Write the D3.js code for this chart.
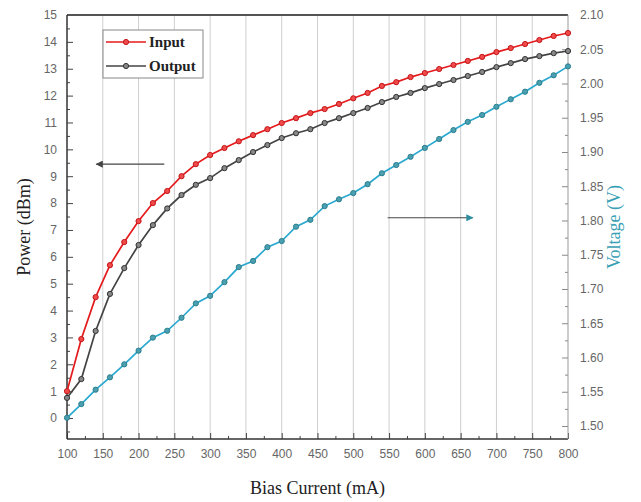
<!DOCTYPE html>
<html lang="en">
<head>
  <meta charset="UTF-8">
  <title>Power and Voltage vs Bias Current</title>
  <script src="https://d3js.org/d3.v7.min.js"></script>
  <style>
    body { margin: 0; background: #fff; }
    svg { display: block; }
    .tick-label { font-family: "Liberation Sans", Arial, sans-serif; font-size: 12px; fill: #666; }
    .title { font-family: "Liberation Serif", "Times New Roman", serif; font-size: 18px; fill: #222; }
    .legend { font-family: "Liberation Serif", "Times New Roman", serif; font-size: 15px; font-weight: bold; fill: #222; }
  </style>
</head>
<body>
  <svg width="641" height="502"></svg>
  <script>
    // data
    const current = d3.range(100, 801, 20);
    const inputPower = [1.0, 2.94, 4.5, 5.69, 6.55, 7.33, 8.0, 8.45, 9.0, 9.45, 9.79, 10.05, 10.3, 10.53, 10.75,
      10.98, 11.16, 11.35, 11.5, 11.69, 11.9, 12.1, 12.36, 12.5, 12.69, 12.84, 12.99, 13.14, 13.29, 13.44,
      13.62, 13.77, 13.92, 14.07, 14.22, 14.33];
    const outputPower = [0.75, 1.45, 3.24, 4.62, 5.58, 6.44, 7.18, 7.8, 8.3, 8.68, 8.93, 9.3, 9.6, 9.9, 10.16,
      10.42, 10.6, 10.75, 10.98, 11.16, 11.35, 11.54, 11.76, 11.95, 12.1, 12.28, 12.43, 12.58, 12.73, 12.88,
      13.06, 13.21, 13.36, 13.47, 13.58, 13.66];
    const voltage = [1.512, 1.532, 1.553, 1.571, 1.590, 1.610, 1.629, 1.639, 1.658, 1.679, 1.690, 1.710, 1.732,
      1.741, 1.761, 1.770, 1.791, 1.801, 1.821, 1.831, 1.840, 1.853, 1.869, 1.881, 1.893, 1.906, 1.919, 1.932,
      1.944, 1.954, 1.966, 1.977, 1.988, 2.001, 2.012, 2.025];
    const xTicks = d3.range(100, 801, 50);
    const leftTicks = d3.range(0, 16, 1);
    const rightTicks = d3.range(1.50, 2.101, 0.05);
    const gridTicks = d3.range(150, 751, 50);

    const pLeft = 67, pRight = 568, pTop = 15, pBottom = 439;

    const x = d3.scaleLinear().domain([100, 800]).range([pLeft, pRight]);
    const y = d3.scaleLinear().domain([-0.78, 15]).range([pBottom, pTop]);
    const yv = d3.scaleLinear().domain([1.481, 2.1]).range([pBottom, pTop]);

    const svg = d3.select('svg');

    // grid
    svg.append('g').selectAll('line')
      .data(gridTicks)
      .enter().append('line')
      .attr('x1', d => x(d)).attr('x2', d => x(d))
      .attr('y1', pTop).attr('y2', pBottom)
      .attr('stroke', '#cfcfcf').attr('stroke-width', 1);

    // axes
    const bottomAxis = svg.append('g')
      .attr('transform', `translate(0,${pBottom})`)
      .call(d3.axisBottom(x).tickValues(xTicks).tickSize(-6).tickPadding(10).tickFormat(d3.format('d')));
    bottomAxis.append('g').call(d3.axisBottom(x).tickValues(d3.range(125, 800, 50)).tickSize(-3).tickFormat(''));

    const leftAxis = svg.append('g')
      .attr('transform', `translate(${pLeft},0)`)
      .call(d3.axisLeft(y).tickValues(leftTicks).tickSize(-6).tickPadding(10).tickFormat(d3.format('d')));
    leftAxis.append('g').call(d3.axisLeft(y).tickValues(d3.range(-0.5, 15, 1)).tickSize(-3).tickFormat(''));

    const rightAxis = svg.append('g')
      .attr('transform', `translate(${pRight},0)`)
      .call(d3.axisRight(yv).tickValues(rightTicks).tickSize(-6).tickPadding(12).tickFormat(d3.format('.2f')));
    rightAxis.append('g').call(d3.axisRight(yv).tickValues(d3.range(1.525, 2.1, 0.05)).tickSize(-3).tickFormat(''));

    [bottomAxis, leftAxis, rightAxis].forEach(a => {
      a.selectAll('text').attr('class', 'tick-label').attr('fill', null);
      a.selectAll('line').attr('stroke', '#444');
      a.selectAll('.domain').remove();
    });
    rightAxis.selectAll('line').attr('stroke', '#888');

    // frame
    svg.append('line').attr('x1', pLeft).attr('x2', pRight).attr('y1', pTop).attr('y2', pTop)
      .attr('stroke', '#555').attr('stroke-width', 2);
    svg.append('line').attr('x1', pLeft).attr('x2', pRight).attr('y1', pBottom).attr('y2', pBottom)
      .attr('stroke', '#333').attr('stroke-width', 1.5);
    svg.append('line').attr('x1', pLeft).attr('x2', pLeft).attr('y1', pTop).attr('y2', pBottom)
      .attr('stroke', '#333').attr('stroke-width', 1.5);
    svg.append('line').attr('x1', pRight).attr('x2', pRight).attr('y1', pTop).attr('y2', pBottom)
      .attr('stroke', '#999').attr('stroke-width', 1);

    // series
    const series = [
      {values: voltage, scale: yv, line: '#2aa8cf', stroke: '#2b7f8f', fill: '#4aa0b0'},
      {values: outputPower, scale: y, line: '#444', stroke: '#333', fill: '#888'},
      {values: inputPower, scale: y, line: '#e41a1c', stroke: '#c4161a', fill: '#f04a4a'}
    ];

    series.forEach(s => {
      const line = d3.line()
        .x((d, i) => x(current[i]))
        .y(d => s.scale(d));
      svg.append('path')
        .datum(s.values)
        .attr('fill', 'none')
        .attr('stroke', s.line)
        .attr('stroke-width', 1.7)
        .attr('d', line);
      svg.append('g').selectAll('circle')
        .data(s.values)
        .enter().append('circle')
        .attr('cx', (d, i) => x(current[i]))
        .attr('cy', d => s.scale(d))
        .attr('r', 2.6)
        .attr('fill', s.fill)
        .attr('stroke', s.stroke)
        .attr('stroke-width', 1);
    });

    // arrows
    const defs = svg.append('defs');
    [['arrGray', '#444'], ['arrTeal', '#2b8f9f']].forEach(([id, c]) => {
      defs.append('marker').attr('id', id)
        .attr('viewBox', '0 0 10 10').attr('refX', 9).attr('refY', 5)
        .attr('markerWidth', 8).attr('markerHeight', 6).attr('orient', 'auto')
        .append('path').attr('d', 'M0,0 L10,5 L0,10 z').attr('fill', c);
    });
    svg.append('line')
      .attr('x1', x(236)).attr('x2', x(141)).attr('y1', y(9.45)).attr('y2', y(9.45))
      .attr('stroke', '#444').attr('stroke-width', 1.2).attr('marker-end', 'url(#arrGray)');
    svg.append('line')
      .attr('x1', x(548)).attr('x2', x(667)).attr('y1', yv(1.804)).attr('y2', yv(1.804))
      .attr('stroke', '#444').attr('stroke-width', 1.2).attr('marker-end', 'url(#arrTeal)');

    // legend
    const legend = svg.append('g').attr('transform', 'translate(103,30)');
    legend.append('rect').attr('width', 100).attr('height', 48)
      .attr('fill', '#fff').attr('stroke', '#888').attr('stroke-width', 1);
    [['Input', series[2]], ['Output', series[1]]].forEach(([name, s], i) => {
      const gy = 12 + i * 24;
      legend.append('line').attr('x1', 3).attr('x2', 43).attr('y1', gy).attr('y2', gy)
        .attr('stroke', s.line).attr('stroke-width', 1.7);
      legend.append('circle').attr('cx', 23).attr('cy', gy).attr('r', 2.6)
        .attr('fill', s.fill).attr('stroke', s.stroke);
      legend.append('text').attr('class', 'legend').attr('x', 46).attr('y', gy + 5).text(name);
    });

    // titles
    svg.append('text').attr('class', 'title')
      .attr('x', (pLeft + pRight) / 2).attr('y', 494).attr('text-anchor', 'middle')
      .text('Bias Current (mA)');
    svg.append('text').attr('class', 'title')
      .attr('transform', `translate(30,${(pTop + pBottom) / 2}) rotate(-90)`)
      .attr('text-anchor', 'middle')
      .text('Power (dBm)');
    svg.append('text').attr('class', 'title')
      .attr('transform', `translate(620,${(pTop + pBottom) / 2}) rotate(-90)`)
      .attr('text-anchor', 'middle')
      .style('fill', '#3a9fb5')
      .text('Voltage (V)');
  </script>
</body>
</html>
